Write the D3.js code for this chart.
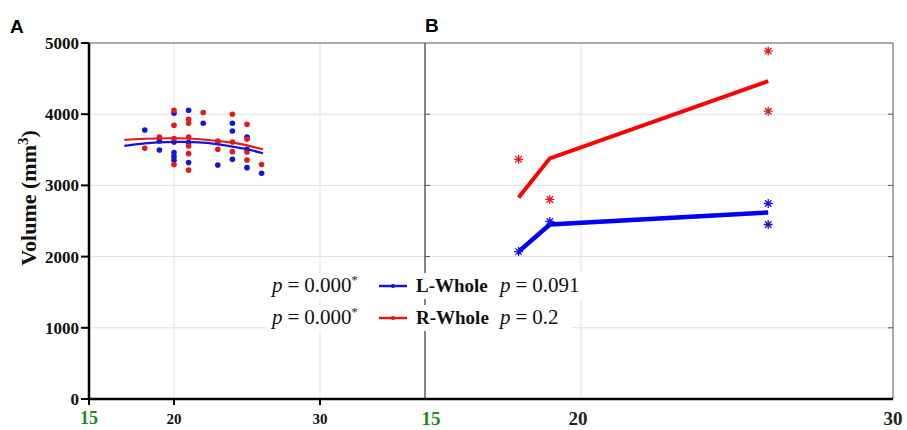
<!DOCTYPE html>
<html>
<head>
<meta charset="utf-8">
<script src="https://cdn.jsdelivr.net/npm/d3@7"></script>
<style>
  body { margin: 0; background: #fff; }
</style>
</head>
<body>
<div id="chart"></div>
<script>
// Panel A: scatter of whole volume by age, with quadratic fits
const ageL = [18, 19, 19, 20, 20, 20, 20, 20, 21, 21, 21, 22, 23, 23, 24, 24, 24, 25, 25, 25, 26];
const volL = [3779, 3624, 3497, 4014, 3610, 3460, 3404, 3352, 4056, 3601, 3320, 3873, 3610, 3286, 3873, 3765, 3366, 3680, 3507, 3249, 3169];
const ageR = [18, 19, 20, 20, 20, 20, 21, 21, 21, 21, 21, 21, 22, 23, 23, 24, 24, 24, 25, 25, 25, 25, 26];
const volR = [3521, 3680, 4056, 3845, 3658, 3292, 3930, 3873, 3680, 3554, 3446, 3215, 4024, 3624, 3507, 4000, 3610, 3474, 3859, 3648, 3469, 3356, 3292];

// fitted curves
const fitAge = [16.6, 18, 20, 22, 24, 25, 26.1];
const fitL = [3554, 3590, 3610, 3600, 3545, 3507, 3451];
const fitR = [3638, 3655, 3662, 3645, 3601, 3563, 3507];

// Panel B: group means and individual values
const bAge = [18, 19, 26];
const bMeanL = [2070, 2451, 2620];
const bMeanR = [2831, 3380, 4465];
const bPtsAge = [18, 19, 26, 26];
const bPtsL = [2070, 2493, 2746, 2451];
const bPtsR = [3366, 2803, 4887, 4042];

const yTicks = [0, 1000, 2000, 3000, 4000, 5000];
const xTicksA = [15, 20, 30];
const xTicksB = [15, 20, 30];

const W = 907, H = 430;
const yTop = 43, yBot = 399;
const ax0 = 89, bx0 = 425, bx1 = 893;
const BLUE = '#1414e0', RED = '#e81818';
const GRID = '#e2e2e2';
const serif = '"Liberation Serif", "DejaVu Serif", serif';

const svg = d3.select('#chart').append('svg')
  .attr('width', W).attr('height', H)
  .style('background', '#fff');

const y = d3.scaleLinear().domain([0, 5000]).range([yBot, yTop]);
// panel A: the origin label "15" sits at the axis corner, data region runs at constant scale
const xA = d3.scaleLinear().domain([15, 16.5, 30]).range([ax0, 122.9, 320]);
const xB = d3.scaleLinear().domain([15, 30]).range([bx0, bx1]);

// grid lines
const grid = svg.append('g').attr('stroke', GRID).attr('stroke-width', 1);
grid.selectAll('.hA').data(yTicks.slice(1, 5)).join('line')
  .attr('x1', ax0).attr('x2', bx1)
  .attr('y1', d => y(d)).attr('y2', d => y(d));
grid.selectAll('.vA').data([20, 30]).join('line')
  .attr('x1', d => xA(d)).attr('x2', d => xA(d))
  .attr('y1', yTop).attr('y2', yBot);
grid.selectAll('.vB').data([20]).join('line')
  .attr('x1', d => xB(d)).attr('x2', d => xB(d))
  .attr('y1', yTop).attr('y2', yBot);

// frame: top border, panel B left and right borders
svg.append('line').attr('x1', ax0).attr('x2', bx1).attr('y1', yTop).attr('y2', yTop)
  .attr('stroke', '#555').attr('stroke-width', 1);
svg.append('line').attr('x1', bx1).attr('x2', bx1).attr('y1', yTop).attr('y2', yBot)
  .attr('stroke', '#555').attr('stroke-width', 1);
svg.append('line').attr('x1', bx0).attr('x2', bx0).attr('y1', yTop).attr('y2', yBot)
  .attr('stroke', '#444').attr('stroke-width', 1.3);

// panel B small inner ticks
const bt = svg.append('g').attr('stroke', '#555').attr('stroke-width', 1);
bt.selectAll('.l').data(yTicks.slice(1, 5)).join('line')
  .attr('x1', bx0).attr('x2', bx0 + 5).attr('y1', d => y(d)).attr('y2', d => y(d));
bt.selectAll('.r').data(yTicks.slice(1, 5)).join('line')
  .attr('x1', bx1 - 5).attr('x2', bx1).attr('y1', d => y(d)).attr('y2', d => y(d));

// panel A scatter
const gA = svg.append('g');
gA.selectAll('.dL').data(ageL.map((a, i) => [a, volL[i]])).join('circle')
  .attr('cx', d => xA(d[0])).attr('cy', d => y(d[1])).attr('r', 2.8).attr('fill', BLUE);
gA.selectAll('.dR').data(ageR.map((a, i) => [a, volR[i]])).join('circle')
  .attr('cx', d => xA(d[0])).attr('cy', d => y(d[1])).attr('r', 2.8).attr('fill', RED);

const fitLine = d3.line().x(d => xA(d[0])).y(d => y(d[1])).curve(d3.curveNatural);
gA.append('path').datum(fitAge.map((a, i) => [a, fitL[i]]))
  .attr('d', fitLine).attr('fill', 'none').attr('stroke', BLUE).attr('stroke-width', 2.2);
gA.append('path').datum(fitAge.map((a, i) => [a, fitR[i]]))
  .attr('d', fitLine).attr('fill', 'none').attr('stroke', RED).attr('stroke-width', 2.2);

// panel B mean lines and asterisk markers
const gB = svg.append('g');
const lineB = d3.line().x(d => xB(d[0])).y(d => y(d[1]));
gB.append('path').datum(bAge.map((a, i) => [a, bMeanR[i]]))
  .attr('d', lineB).attr('fill', 'none').attr('stroke', '#f00').attr('stroke-width', 4);
gB.append('path').datum(bAge.map((a, i) => [a, bMeanL[i]]))
  .attr('d', lineB).attr('fill', 'none').attr('stroke', '#0000f5').attr('stroke-width', 4.5);

const star = (r) => {
  const k = r * 0.72;
  return `M${-r},0H${r}M0,${-r}V${r}M${-k},${-k}L${k},${k}M${-k},${k}L${k},${-k}`;
};
gB.selectAll('.sR').data(bPtsAge.map((a, i) => [a, bPtsR[i]])).join('path')
  .attr('transform', d => `translate(${xB(d[0])},${y(d[1])})`)
  .attr('d', star(4.5)).attr('stroke', RED).attr('stroke-width', 1.3).attr('fill', 'none');
gB.selectAll('.sL').data(bPtsAge.map((a, i) => [a, bPtsL[i]])).join('path')
  .attr('transform', d => `translate(${xB(d[0])},${y(d[1])})`)
  .attr('d', star(4.5)).attr('stroke', BLUE).attr('stroke-width', 1.3).attr('fill', 'none');

// left axis
svg.append('line').attr('x1', ax0).attr('x2', ax0).attr('y1', yTop).attr('y2', yBot + 1)
  .attr('stroke', '#000').attr('stroke-width', 2.5);
const yl = svg.append('g');
yl.selectAll('line').data(yTicks).join('line')
  .attr('x1', ax0 - 8).attr('x2', ax0).attr('y1', d => y(d)).attr('y2', d => y(d))
  .attr('stroke', '#000').attr('stroke-width', 2);
yl.selectAll('text').data(yTicks).join('text')
  .attr('x', ax0 - 10).attr('y', d => y(d)).attr('dy', '0.35em')
  .attr('text-anchor', 'end').attr('font-family', serif).attr('font-weight', 'bold')
  .attr('font-size', 17).attr('fill', '#111').text(d => d);

// bottom axis
svg.append('line').attr('x1', ax0 - 1).attr('x2', bx1).attr('y1', yBot).attr('y2', yBot)
  .attr('stroke', '#000').attr('stroke-width', 2.5);
const xl = svg.append('g');
xl.selectAll('line').data(xTicksA).join('line')
  .attr('x1', d => xA(d)).attr('x2', d => xA(d)).attr('y1', yBot).attr('y2', yBot + 6)
  .attr('stroke', '#000').attr('stroke-width', 2);
xl.selectAll('.ta').data(xTicksA).join('text')
  .attr('x', d => xA(d)).attr('y', 424).attr('text-anchor', 'middle')
  .attr('font-family', serif).attr('font-weight', 'bold')
  .attr('font-size', d => d === 15 ? 18 : 15)
  .attr('fill', d => d === 15 ? '#1f8a1f' : '#111').text(d => d);
xl.selectAll('.tb').data(xTicksB).join('text')
  .attr('x', d => d === 15 ? xB(d) + 6 : xB(d) - (d === 30 ? 0 : 3)).attr('y', 425).attr('text-anchor', 'middle')
  .attr('font-family', serif).attr('font-weight', 'bold')
  .attr('font-size', 19)
  .attr('fill', d => d === 15 ? '#1f8a1f' : '#222').text(d => d);

// y axis title
svg.append('text')
  .attr('transform', 'translate(36,198) rotate(-90)')
  .attr('text-anchor', 'middle').attr('font-family', serif).attr('font-weight', 'bold')
  .attr('font-size', 22).attr('fill', '#111')
  .call(t => {
    t.append('tspan').text('Volume (mm');
    t.append('tspan').attr('dy', -8).attr('font-size', 15).text('3');
    t.append('tspan').attr('dy', 8).text(')');
  });

// panel letters
svg.append('text').attr('x', 10).attr('y', 33).attr('font-family', '"Liberation Sans", Arial, sans-serif')
  .attr('font-weight', 'bold').attr('font-size', 19).text('A');
svg.append('text').attr('x', 425).attr('y', 32).attr('font-family', '"Liberation Sans", Arial, sans-serif')
  .attr('font-weight', 'bold').attr('font-size', 19).text('B');

// legend
const legRows = [
  { name: 'L-Whole', color: BLUE, left: '0.000', right: '0.091', y: 292 },
  { name: 'R-Whole', color: RED, left: '0.000', right: '0.2', y: 324 }
];
const leg = svg.append('g');
leg.selectAll('rect').data(legRows).join('rect')
  .attr('x', 267).attr('y', d => d.y - 19).attr('width', d => d.right.length > 3 ? 324 : 305).attr('height', 26)
  .attr('fill', '#fff');
leg.selectAll('.sw').data(legRows).join('line')
  .attr('x1', 379).attr('x2', 407).attr('y1', d => d.y - 6).attr('y2', d => d.y - 6)
  .attr('stroke', d => d.color).attr('stroke-width', 2.5);
leg.selectAll('.dot').data(legRows).join('circle')
  .attr('cx', 393).attr('cy', d => d.y - 6).attr('r', 2).attr('fill', d => d.color);
const mathText = (x, val, withStar) => {
  leg.selectAll(null).data(legRows).join('text')
    .attr('x', x).attr('y', d => d.y)
    .attr('font-family', serif).attr('font-size', 21).attr('fill', '#111')
    .each(function (d) {
      const t = d3.select(this);
      t.append('tspan').attr('font-style', 'italic').text('p');
      t.append('tspan').attr('dx', 5).text('=');
      t.append('tspan').attr('dx', 5).text(val(d));
      if (withStar) t.append('tspan').attr('dy', -8).attr('font-size', 12).text('*');
    });
};
mathText(272, d => d.left, true);
mathText(500, d => d.right, false);
leg.selectAll(null).data(legRows).join('text')
  .attr('x', 416).attr('y', d => d.y).attr('font-family', serif).attr('font-weight', 'bold')
  .attr('font-size', 19).attr('fill', '#111').text(d => d.name);
</script>
</body>
</html>
